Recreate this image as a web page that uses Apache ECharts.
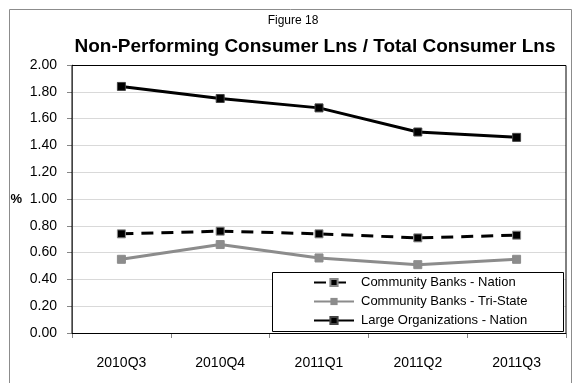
<!DOCTYPE html>
<html>
<head>
<meta charset="utf-8">
<script src="https://cdn.jsdelivr.net/npm/echarts@6/dist/echarts.min.js"></script>
<style>
  html, body { margin: 0; padding: 0; background: #fff; }
  #chart { width: 573px; height: 383px; }
</style>
</head>
<body>
<div id="chart"></div>
<script>
// Quarterly ratios, in percent
const quarters = ['2010Q3', '2010Q4', '2011Q1', '2011Q2', '2011Q3'];
const communityNation = [0.74, 0.76, 0.74, 0.71, 0.73];
const communityTriState = [0.55, 0.66, 0.56, 0.51, 0.55];
const largeNation = [1.84, 1.75, 1.68, 1.50, 1.46];
const yTicks = { min: 0, max: 2, step: 0.2 };

const FONT = "'Liberation Sans', Arial, sans-serif";

const chart = echarts.init(document.getElementById('chart'), null, { renderer: 'canvas' });

chart.setOption({
  backgroundColor: '#fff',
  animation: false,
  textStyle: { fontFamily: FONT },
  graphic: [
    {
      type: 'rect', z: -1, silent: true,
      shape: { x: 9.5, y: 9.5, width: 562, height: 380 },
      style: { fill: '#fff', stroke: '#8c8c8c', lineWidth: 1 }
    },
    {
      type: 'text', x: 293, y: 21,
      style: { text: 'Figure 18', font: "12px " + FONT, fill: '#000', textAlign: 'center', textVerticalAlign: 'middle' }
    },
    {
      type: 'text', x: 315, y: 47,
      style: { text: 'Non-Performing Consumer Lns / Total Consumer Lns', font: "bold 19px " + FONT, fill: '#000', textAlign: 'center', textVerticalAlign: 'middle' }
    },
    {
      type: 'rect', z: 50, silent: true,
      shape: { x: 272.5, y: 272.5, width: 291, height: 59 },
      style: { fill: '#fff', stroke: '#000', lineWidth: 1 }
    },
    {
      type: 'rect', z: 1, silent: true,
      shape: { x: 72, y: 65.5, width: 494, height: 268 },
      style: { fill: 'none', stroke: '#000', lineWidth: 1 }
    }
  ],
  legend: {
    z: 60,
    orient: 'vertical',
    left: 313,
    top: 276,
    itemWidth: 40,
    itemHeight: 9,
    itemGap: 6,
    padding: 0,
    textStyle: { fontSize: 13, lineHeight: 13, color: '#000', fontFamily: FONT, padding: [0, 0, 0, 2] },
    data: ['Community Banks - Nation', 'Community Banks - Tri-State', 'Large Organizations - Nation']
  },
  grid: { left: 72, right: 7, top: 65, bottom: 50, containLabel: false },
  xAxis: {
    type: 'category',
    data: quarters,
    boundaryGap: true,
    axisLine: { lineStyle: { color: '#868686', width: 1 } },
    axisTick: { show: true, interval: 0, length: 5, lineStyle: { color: '#868686' } },
    axisLabel: { fontSize: 14, color: '#000', margin: 23, fontFamily: FONT }
  },
  yAxis: {
    type: 'value',
    min: yTicks.min,
    max: yTicks.max,
    interval: yTicks.step,
    name: '%',
    nameLocation: 'middle',
    nameRotate: 0,
    nameGap: 50,
    nameTextStyle: { fontWeight: 'bold', fontSize: 13, color: '#000', fontFamily: FONT },
    axisLine: { show: true, lineStyle: { color: '#868686', width: 1 } },
    axisTick: { show: true, length: 5, inside: false, lineStyle: { color: '#868686' } },
    axisLabel: {
      fontSize: 14, color: '#000', margin: 15, fontFamily: FONT,
      formatter: v => v.toFixed(2)
    },
    splitLine: { lineStyle: { color: '#d9d9d9', width: 1 } }
  },
  series: [
    {
      name: 'Community Banks - Nation',
      type: 'line',
      data: communityNation,
      symbol: 'rect',
      symbolSize: 8,
      z: 3,
      lineStyle: { color: '#000', width: 3, type: [12, 8] },
      itemStyle: { color: '#000', borderColor: '#888', borderWidth: 1 }
    },
    {
      name: 'Community Banks - Tri-State',
      type: 'line',
      data: communityTriState,
      symbol: 'rect',
      symbolSize: 8,
      z: 2,
      lineStyle: { color: '#8c8c8c', width: 3 },
      itemStyle: { color: '#8c8c8c', borderColor: '#8c8c8c' }
    },
    {
      name: 'Large Organizations - Nation',
      type: 'line',
      data: largeNation,
      symbol: 'rect',
      symbolSize: 8,
      z: 4,
      lineStyle: { color: '#000', width: 3 },
      itemStyle: { color: '#000', borderColor: '#444', borderWidth: 1 }
    }
  ]
});
</script>
</body>
</html>
